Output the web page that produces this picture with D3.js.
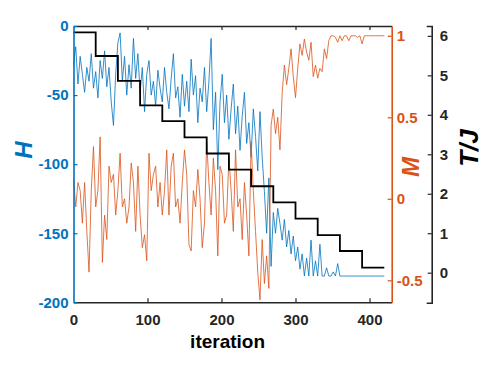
<!DOCTYPE html>
<html>
<head>
<meta charset="utf-8">
<script src="https://d3js.org/d3.v7.min.js"></script>
<style>
	body { margin: 0; background: #fff; }
	text { font-family: "Liberation Sans", Arial, sans-serif; font-weight: bold; }
	.domain { fill: none; }
</style>
</head>
<body>
<div id="chart"></div>
<script>
// energy H, magnetisation M (sampled every 3 iterations) and temperature schedule T/J
var iterStep = 3;
var hVals = [-28, -15, -42, -22, -35, -48, -30, -40, -20, -45, -33, -52, -25, -38, -18, -44, -30, -55, -72, -35,
	-12, -5, -40, -22, -50, -28, -45, -9, -38, -20, -48, -30, -62, -35, -25, -50, -40, -58, -32, -45,
	-55, -30, -48, -60, -38, -20, -52, -44, -66, -35, -58, -40, -62, -24, -50, -36, -70, -45, -55, -30,
	-62, -40, -9, -75, -48, -104, -55, -35, -70, -50, -82, -60, -42, -78, -58, -90, -65, -48, -85, -70,
	-95, -60, -80, -105, -62, -95, -120, -150, -110, -174, -135, -150, -132, -143, -155, -140, -160, -148, -165, -152,
	-170, -160, -176, -165, -181, -168, -181, -155, -181, -170, -181, -158, -181, -181, -175, -181, -181, -178, -181, -172,
	-181, -181, -181, -181, -181, -181, -181, -181, -181, -181, -181, -181, -181, -181, -181, -181, -181, -181, -181, -181, -181];
var mVals = [0.12, -0.05, 0.1, 0.05, -0.15, 0.1, -0.2, -0.45, 0.05, 0.32, -0.05, 0.05, 0.38, -0.39, -0.1, -0.25, 0.2, 0.1, 0.15, -0.1,
	0.05, 0.28, -0.05, 0.0, -0.15, -0.05, 0.22, 0.1, -0.2, 0.2, -0.1, -0.3, -0.22, -0.38, 0.28, 0.05, 0.15, 0.2, -0.05, 0.1,
	-0.1, 0.05, 0.3, -0.1, 0.2, 0.28, -0.05, 0.0, -0.15, 0.1, 0.3, 0.15, -0.28, -0.32, 0.05, -0.05, 0.18, 0.0, -0.3, -0.15,
	0.35, 0.1, -0.1, 0.25, 0.05, -0.35, 0.2, 0.15, -0.15, -0.1, 0.25, 0.05, -0.2, 0.3, -0.05, 0.0, -0.25, 0.1, -0.1, -0.35,
	0.35, 0.05, -0.2, -0.45, -0.62, -0.25, -0.52, -0.35, -0.55, 0.45, 0.55, 0.4, 0.5, 0.3, 0.65, 0.82, 0.7, 0.8, 0.92, 0.75,
	0.62, 0.8, 0.95, 0.88, 0.98, 0.9, 0.85, 0.96, 0.75, 0.82, 0.74, 0.8, 0.78, 0.92, 0.86, 0.97, 1.0, 1.0, 0.99, 0.96,
	1.0, 0.97, 1.0, 1.0, 0.97, 1.0, 1.0, 1.0, 0.99, 1.0, 0.95, 1.0, 1.0, 1.0, 1.0, 1.0, 1.0, 1.0, 1.0, 1.0, 1.0];
var stepEdges = [0, 30, 60, 90, 120, 150, 180, 210, 240, 270, 300, 330, 360, 390, 420];
var tVals = [6.09, 5.49, 4.86, 4.24, 3.84, 3.43, 3.02, 2.61, 2.19, 1.78, 1.37, 0.95, 0.55, 0.13];
var xTicks = [0, 100, 200, 300, 400],
	hTicks = [-200, -150, -100, -50, 0],
	mTicks = [-0.5, 0, 0.5, 1],
	tTicks = [0, 1, 2, 3, 4, 5, 6];

var svgW = 498, svgH = 365,
	plotLeft = 73.5, plotRight = 391.7, plotTop = 26, plotBottom = 302.3,
	tAxisX = 431.7,
	blue = "#0072BD", orange = "#D95319", dark = "#262626";

// plain hyphen minus like the original figure
var fmt = function(d) { return String(d); };

var svg = d3.select("#chart").append("svg")
	.attr("width", svgW)
	.attr("height", svgH);

var x = d3.scaleLinear().domain([0, 430]).range([plotLeft, plotRight]);
var yH = d3.scaleLinear().domain([-200, 0]).range([plotBottom, plotTop]);
var yM = d3.scaleLinear().domain([-0.635, 1.06]).range([plotBottom, plotTop]);
var yT = d3.scaleLinear().domain([-0.76, 6.25]).range([plotBottom + 0.4, plotTop]);

function styleAxis(g, color, size) {
	g.selectAll(".domain").attr("stroke", color).attr("stroke-width", 1.6);
	g.selectAll(".tick line").attr("stroke", color).attr("stroke-width", 1.2);
	g.selectAll(".tick text").attr("fill", color).style("font-size", size + "px");
	g.attr("font-family", null).attr("font-size", null);
}

// series
var hLine = d3.line()
	.x(function(d, i) { return x(i * iterStep); })
	.y(function(d) { return yH(d); });
var mLine = d3.line()
	.x(function(d, i) { return x(i * iterStep); })
	.y(function(d) { return yM(d); });

svg.append("path").datum(hVals)
	.attr("d", hLine)
	.attr("fill", "none")
	.attr("stroke", blue)
	.attr("stroke-width", 0.8);

svg.append("path").datum(mVals)
	.attr("d", mLine)
	.attr("fill", "none")
	.attr("stroke", orange)
	.attr("stroke-width", 0.8);

var steps = tVals.map(function(d, i) { return [stepEdges[i], d]; });
steps.push([stepEdges[stepEdges.length - 1], tVals[tVals.length - 1]]);
svg.append("path").datum(steps)
	.attr("d", d3.line().curve(d3.curveStepAfter)
		.x(function(d) { return x(d[0]); })
		.y(function(d) { return yT(d[1]); }))
	.attr("fill", "none")
	.attr("stroke", "#000")
	.attr("stroke-width", 1.8);

// axes
var gx = svg.append("g")
	.attr("transform", "translate(0," + plotBottom + ")")
	.call(d3.axisBottom(x).tickValues(xTicks).tickSizeInner(-4).tickSizeOuter(0).tickPadding(12).tickFormat(fmt));
styleAxis(gx, dark, 15);
gx.selectAll(".tick").filter(function(d) { return d === 0; }).select("line").remove();

var gTop = svg.append("g")
	.attr("transform", "translate(0," + plotTop + ")")
	.call(d3.axisTop(x).tickValues(xTicks.slice(1)).tickSizeInner(-4).tickSizeOuter(0).tickFormat(""));
styleAxis(gTop, dark, 15);

var gH = svg.append("g")
	.attr("transform", "translate(" + plotLeft + ",0)")
	.call(d3.axisLeft(yH).tickValues(hTicks).tickSizeInner(-4).tickSizeOuter(0).tickPadding(5).tickFormat(fmt));
styleAxis(gH, blue, 15);

var gM = svg.append("g")
	.attr("transform", "translate(" + plotRight + ",0)")
	.call(d3.axisRight(yM).tickValues(mTicks).tickSizeInner(-4).tickSizeOuter(0).tickPadding(5).tickFormat(fmt));
styleAxis(gM, orange, 15);

var gT = svg.append("g")
	.attr("transform", "translate(" + tAxisX + ",0)")
	.call(d3.axisRight(yT).tickValues(tTicks).tickSizeInner(-4).tickSizeOuter(-5).tickPadding(8).tickFormat(fmt));
styleAxis(gT, dark, 15);

// labels
svg.append("text")
	.attr("x", (plotLeft + plotRight) / 2 - 5)
	.attr("y", 348)
	.attr("text-anchor", "middle")
	.attr("fill", "#000")
	.style("font-size", "19px")
	.text("iteration");

svg.append("text")
	.attr("transform", "translate(32,150) rotate(-90)")
	.attr("text-anchor", "middle")
	.attr("fill", blue)
	.style("font-size", "24px")
	.style("font-style", "italic")
	.text("H");

svg.append("text")
	.attr("transform", "translate(419,167) rotate(-90)")
	.attr("text-anchor", "middle")
	.attr("fill", orange)
	.style("font-size", "24px")
	.style("font-style", "italic")
	.text("M");

svg.append("text")
	.attr("transform", "translate(478,148) rotate(-90)")
	.attr("text-anchor", "middle")
	.attr("fill", "#000")
	.style("font-size", "26px")
	.style("font-style", "italic")
	.text("T/J");
</script>
</body>
</html>
